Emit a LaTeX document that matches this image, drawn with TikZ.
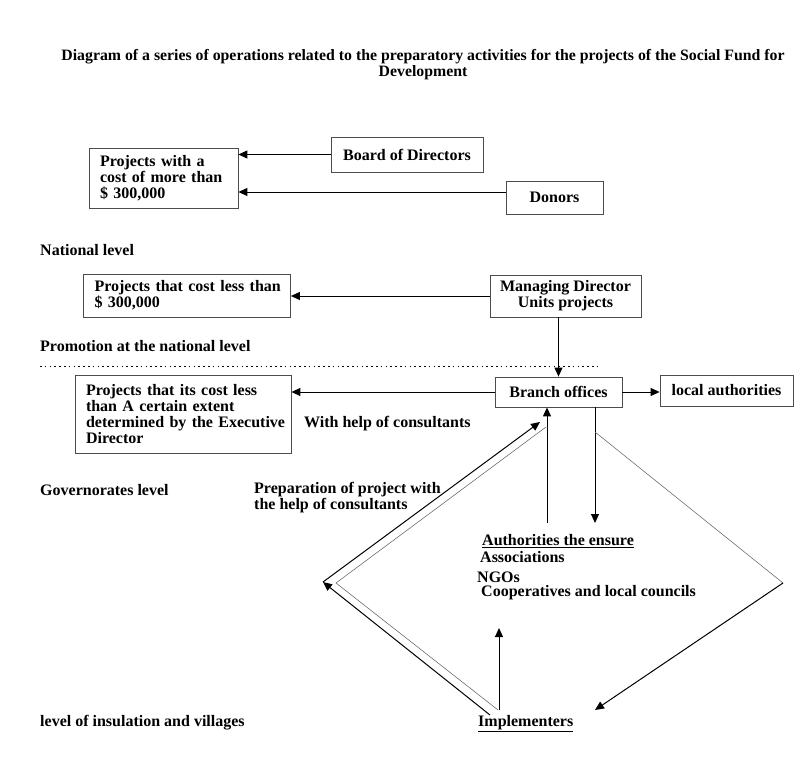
\documentclass[tikz,border=0pt]{standalone}
\usepackage{fontspec}
\setmainfont{Liberation Serif}
\usetikzlibrary{arrows.meta}
\begin{document}
\begin{tikzpicture}[x=1pt,y=-1pt,
  box/.style={draw=black!70, line width=0.8pt, inner ysep=0pt, font=\bfseries\fontsize{16}{15.8}\selectfont},
  lbox/.style={box, align=left, inner xsep=11pt},
  cbox/.style={box, align=center, inner xsep=0pt},
  txt/.style={font=\bfseries\fontsize{16}{16}\selectfont, inner sep=0pt, anchor=west, align=left},
  arr/.style={line width=1pt, -{Triangle[length=9pt,width=8pt]}},
  thin/.style={line width=0.55pt, draw=black!60},
]
\useasboundingbox[fill=white] (0,0) rectangle (812,768);

% title
\node[font=\bfseries\fontsize{15.8}{16}\selectfont, align=center, inner sep=0pt] (title) at (423,65)
  {Diagram of a series of operations related to the preparatory activities for the projects of the Social Fund for\\Development};

% boxes
\node[lbox, text width=127pt, minimum height=60pt] (big) at (163.5,178)
  {\mbox{Projects with a}\\\mbox{cost of more than}\\\mbox{\$ 300,000}};
\node[cbox, minimum width=152pt, minimum height=35pt] (board) at (407,154.5) {Board of Directors};
\node[cbox, minimum width=97pt, minimum height=33pt] (donors) at (554.5,197.5) {Donors};
\node[lbox, text width=185pt, minimum height=43pt] (less) at (187,295.5)
  {\mbox{Projects that cost less than}\\\mbox{\$ 300,000}};
\node[cbox, minimum width=151pt, minimum height=42pt] (md) at (565.5,296) {Managing Director\\Units projects};
\node[cbox, minimum width=127pt, minimum height=30pt] (branch) at (558.5,392) {Branch offices};
\node[cbox, minimum width=133pt, minimum height=31pt] (local) at (726.5,390.5) {local authorities};
\node[lbox, text width=194pt, minimum height=78pt] (extent) at (183,414)
  {\mbox{Projects that its cost less}\\\mbox{than A certain extent}\\\mbox{determined by the Executive}\\\mbox{Director}};

% free texts
\node[txt] (national) at (40,250) {National level};
\node[txt] (promo) at (40,346) {Promotion at the national level};
\node[txt] (withhelp) at (304,424) {With help of consultants};
\node[txt] (gov) at (40,490) {Governorates level};
\node[txt] (prep) at (254,498) {Preparation of project with\\the help of consultants};
\node[txt] (auth) at (482,541) {\underline{Authorities the ensure}};
\node[txt] (assoc) at (480,557) {Associations};
\node[txt] (ngo) at (477,577) {NGOs};
\node[txt] (coop) at (481,593) {Cooperatives and local councils};
\node[txt] (villages) at (40,723) {level of insulation and villages};
\node[txt] (impl) at (478,724) {\underline{Implementers}};

% dotted separator
\draw[line width=1pt, dash pattern=on 1.6pt off 3.2pt] (40,366) -- (600,366);

% connectors
\coordinate (donw) at ([yshift=5.5pt]donors.west);
\draw[arr] (board.west) -- (big.east |- board.west);
\draw[arr] (donw) -- (big.east |- donw);
\draw[arr] (md.west) -- (less.east |- md.west);
\draw[arr] (md.south -| branch.north) -- (branch.north);
\draw[arr] (branch.west) -- (extent.east |- branch.west);
\draw[arr] (branch.east) -- (local.west |- branch.east);

\coordinate (up1) at (547,523);
\coordinate (dn1) at (595,523);
\draw[arr] (up1) -- (branch.south -| up1);
\draw[arr] (branch.south -| dn1) -- (dn1);

\coordinate (r1) at (595,432);
\coordinate (r2) at (783,583);
\coordinate (r3) at (595,710);
\draw[thin] (r1) -- (r2);
\draw[arr] (r2) -- (r3);

% double line from implementers to branch
\coordinate (b0) at (490,715);
\coordinate (b1) at (323,582);
\coordinate (b2) at (540,422);
\draw[arr] (b0) -- (b1);
\draw[arr] (b1) -- (b2);
\coordinate (g0) at (498,710);
\coordinate (g1) at (336,583);
\coordinate (g2) at (546,427);
\draw[thin] (g0) -- (g1) -- (g2);

\coordinate (i0) at (499,710);
\coordinate (i1) at (499,628);
\draw[arr] (i0) -- (i1);
\end{tikzpicture}
\end{document}
